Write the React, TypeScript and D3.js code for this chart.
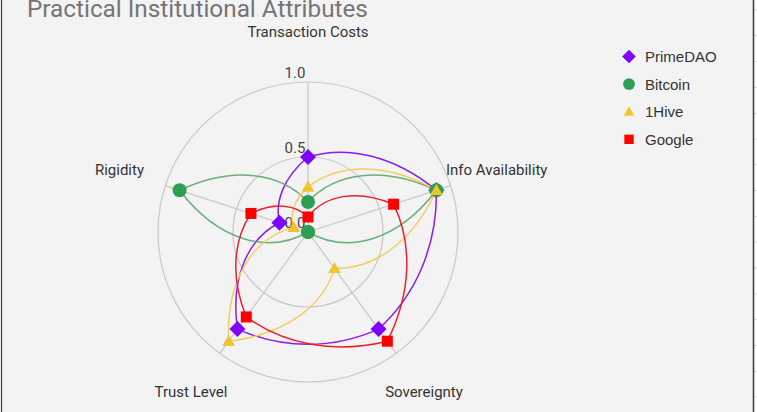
import React from "react";
import * as d3 from "d3";

const axes = ["Transaction Costs", "Info Availability", "Sovereignty", "Trust Level", "Rigidity"];
const seriesNames = ["PrimeDAO", "Bitcoin", "1Hive", "Google"];
const primeDAO = [0.5, 0.9, 0.8, 0.8, 0.2];
const bitcoin = [0.2, 0.9, 0.0, 0.0, 0.9];
const oneHive = [0.3, 0.9, 0.3, 0.9, 0.1];
const google = [0.1, 0.6, 0.9, 0.7, 0.4];
const tickValues = [0.0, 0.5, 1.0];
const title = "Practical Institutional Attributes";

const W = 757, H = 412;
const cx = 308, cy = 232, R = 150;

const series = [
  { name: seriesNames[0], values: primeDAO, color: "#8000ff", line: "#8a1cf0", shape: "diamond" },
  { name: seriesNames[1], values: bitcoin, color: "#2f9e55", line: "#6aae7a", shape: "circle" },
  { name: seriesNames[2], values: oneHive, color: "#f1c232", line: "#f3cd62", shape: "triangle" },
  { name: seriesNames[3], values: google, color: "#ff0000", line: "#e8222a", shape: "square" },
];

const rScale = d3.scaleLinear().domain([0, 1]).range([0, R]);
const step = (2 * Math.PI) / axes.length;
const angleAt = (t: number) => -Math.PI / 2 + t * step;
const polarXY = (t: number, v: number): [number, number] => [
  cx + rScale(v) * Math.cos(angleAt(t)),
  cy + rScale(v) * Math.sin(angleAt(t)),
];

// smooth closed radar path: each segment is a cubic whose control points
// sit at 1/3 and 2/3 of the angular step between neighbouring spokes
function radarPath(values: number[]) {
  const n = values.length;
  const p = d3.path();
  const start = polarXY(0, values[0]);
  p.moveTo(start[0], start[1]);
  for (let i = 0; i < n; i++) {
    const a = values[i], b = values[(i + 1) % n];
    const c1 = polarXY(i + 1 / 3, (2 * a + b) / 3);
    const c2 = polarXY(i + 2 / 3, (a + 2 * b) / 3);
    const e = polarXY(i + 1, b);
    p.bezierCurveTo(c1[0], c1[1], c2[0], c2[1], e[0], e[1]);
  }
  p.closePath();
  return p.toString();
}

function Marker({ shape, color, x, y, k = 1 }: { shape: string; color: string; x: number; y: number; k?: number }) {
  if (shape === "diamond") {
    const s = 8 * k;
    return <path d={`M${x},${y - s}L${x + s},${y}L${x},${y + s}L${x - s},${y}Z`} fill={color} />;
  }
  if (shape === "circle") return <circle cx={x} cy={y} r={7 * k} fill={color} />;
  if (shape === "square") return <rect x={x - 5.5 * k} y={y - 5.5 * k} width={11 * k} height={11 * k} fill={color} />;
  const tri = d3.symbol().type(d3.symbolTriangle).size(70 * k * k)() as string;
  return <path transform={`translate(${x},${y + 1})`} d={tri} fill={color} />;
}

const labelLayout = [
  { x: 308, y: 37, anchor: "middle" },
  { x: 446, y: 175, anchor: "start" },
  { x: 424, y: 397, anchor: "middle" },
  { x: 191, y: 397, anchor: "middle" },
  { x: 144, y: 175, anchor: "end" },
];

export default function App() {
  const font = "Roboto, 'Noto Sans', sans-serif";
  const legendFont = "'Liberation Sans', Arial, sans-serif";
  const stubs = d3.range(10, H, 25.8);
  return (
    <div style={{ position: "fixed", left: 0, top: 0 }}>
      <svg width={W} height={H} style={{ display: "block" }}>
        <rect x={0} y={0} width={W} height={H} fill="#ffffff" />
        <rect x={1} y={0} width={752} height={H} fill="#f3f3f3" />
        {stubs.map((y, i) => (
          <line key={i} x1={754} x2={757} y1={y} y2={y} stroke="#d8d8d8" />
        ))}
        <line x1={1.5} x2={1.5} y1={0} y2={H} stroke="#3a3a3a" strokeWidth={1.2} />
        <line x1={753.5} x2={753.5} y1={0} y2={H} stroke="#3a3a3a" strokeWidth={1.5} />

        <text x={27} y={17} fontFamily={font} fontSize={24.3} fill="#757575">{title}</text>

        {tickValues.filter((v) => v > 0).map((v) => (
          <circle key={v} cx={cx} cy={cy} r={rScale(v)} fill="none" stroke="#c8c8c8" strokeWidth={1.2} />
        ))}
        {axes.map((a, i) => {
          const [x, y] = polarXY(i, 1);
          return <line key={a} x1={cx} y1={cy} x2={x} y2={y} stroke="#c8c8c8" strokeWidth={1.2} />;
        })}
        {tickValues.map((v) => (
          <text key={v} x={295} y={cy - rScale(v) - 4} textAnchor="middle" fontFamily={font} fontSize={15} fill="#444">
            {d3.format(".1f")(v)}
          </text>
        ))}
        {axes.map((a, i) => (
          <text key={a} x={labelLayout[i].x} y={labelLayout[i].y} textAnchor={labelLayout[i].anchor as any}
            fontFamily={font} fontSize={15} fill="#333">{a}</text>
        ))}

        {series.map((s) => (
          <path key={s.name} d={radarPath(s.values)} fill="none" stroke={s.line} strokeWidth={1.5} />
        ))}
        {series.map((s) => (
          <g key={s.name}>
            {s.values.map((v, i) => {
              const [x, y] = polarXY(i, v);
              return <Marker key={i} shape={s.shape} color={s.color} x={x} y={y} />;
            })}
          </g>
        ))}

        {series.map((s, k) => (
          <g key={s.name}>
            <Marker shape={s.shape} color={s.color} x={629} y={56.5 + k * 27.6} k={0.85} />
            <text x={645} y={56.5 + k * 27.6 + 5.5} fontFamily={legendFont} fontSize={15} fill="#333">{s.name}</text>
          </g>
        ))}
      </svg>
    </div>
  );
}
